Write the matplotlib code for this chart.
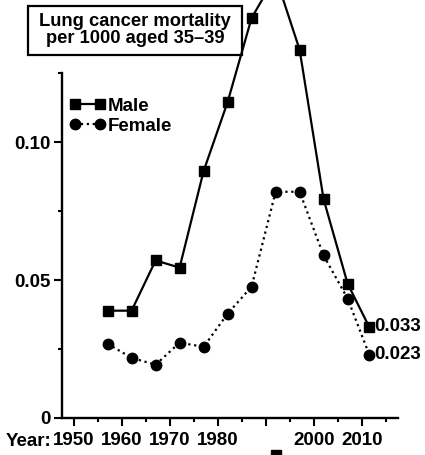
import matplotlib
matplotlib.use("Agg")
import matplotlib.pyplot as plt
from matplotlib.patches import Rectangle
from matplotlib.ticker import MultipleLocator, FixedLocator, FixedFormatter

plt.rcParams["font.family"] = ["Liberation Sans", "DejaVu Sans"]
plt.rcParams["font.weight"] = "bold"

years = [1957, 1962, 1967, 1972, 1977, 1982, 1987, 1992, 1997, 2002, 2007, 2011.5]
male = [0.0389, 0.0389, 0.0571, 0.0545, 0.0895, 0.1145, 0.145, 0.160, 0.1335, 0.0793, 0.0487, 0.033]
female = [0.0269, 0.0218, 0.0193, 0.0273, 0.0258, 0.0378, 0.0476, 0.082, 0.082, 0.0589, 0.0433, 0.023]

xticks = [1950, 1960, 1970, 1980, 1990, 2000, 2010]
xlabels = ["1950", "1960", "1970", "1980", "", "2000", "2010"]
yticks = [0, 0.05, 0.10]
ylabels = ["0", "0.05", "0.10"]
end_labels = ["0.033", "0.023"]

FS = 13.5

W, H = 425, 455
fig = plt.figure(figsize=(W / 100, H / 100), dpi=100)
ax = fig.add_axes([62 / W, 37 / H, 336 / W, 418 / H])

ax.plot(years, male, color="black", lw=1.6, marker="s", ms=7.5, label="Male", clip_on=False)
ax.plot(years, female, color="black", lw=1.6, ls=":", marker="o", ms=7.5, label="Female", clip_on=False)

# stray marker cut off at the bottom edge
ax.plot([1992], [-0.0135], "s", color="black", ms=7.5, clip_on=False)

ax.text(years[-1] + 1.1, male[-1], end_labels[0], fontsize=FS, va="center", ha="left", fontweight="bold")
ax.text(years[-1] + 1.1, female[-1], end_labels[1], fontsize=FS, va="center", ha="left", fontweight="bold")

ax.set_xlim(1947.5, 2017.5)
ax.set_ylim(0, 0.1515)

for s in ["top", "right"]:
    ax.spines[s].set_visible(False)
for s in ["left", "bottom"]:
    ax.spines[s].set_linewidth(1.7)
ax.spines["left"].set_bounds(0, 0.125)

ax.xaxis.set_major_locator(FixedLocator(xticks))
ax.xaxis.set_major_formatter(FixedFormatter(xlabels))
ax.xaxis.set_minor_locator(MultipleLocator(5))
ax.yaxis.set_major_locator(FixedLocator(yticks))
ax.yaxis.set_major_formatter(FixedFormatter(ylabels))
ax.yaxis.set_minor_locator(FixedLocator([0.025, 0.075, 0.125]))
ax.tick_params(which="major", length=6, width=1.5, labelsize=FS)
ax.tick_params(axis="x", which="major", pad=4)
ax.tick_params(axis="y", which="major", pad=2)
ax.tick_params(which="minor", length=3, width=1.5)
for lab in ax.get_xticklabels() + ax.get_yticklabels():
    lab.set_fontweight("bold")

fig.text(6 / W, 1 - 442 / H, "Year:", fontsize=FS, fontweight="bold", ha="left", va="center")

leg = ax.legend(loc="upper left", bbox_to_anchor=(0.01, 0.775), frameon=False, numpoints=2,
                handlelength=1.95, handletextpad=0.12, labelspacing=0.15, fontsize=FS,
                borderaxespad=0.0, borderpad=0.2)
for t in leg.get_texts():
    t.set_fontweight("bold")

fig.patches.append(Rectangle((28 / W, 1 - 55 / H), 214 / W, 49 / H, transform=fig.transFigure,
                             fill=False, edgecolor="black", lw=1.6))
fig.text(135 / W, 1 - 30 / H, "Lung cancer mortality\nper 1000 aged 35\u201339", fontsize=13.2,
         fontweight="bold", ha="center", va="center", linespacing=1.05)

fig.savefig("out.png", dpi=100)
